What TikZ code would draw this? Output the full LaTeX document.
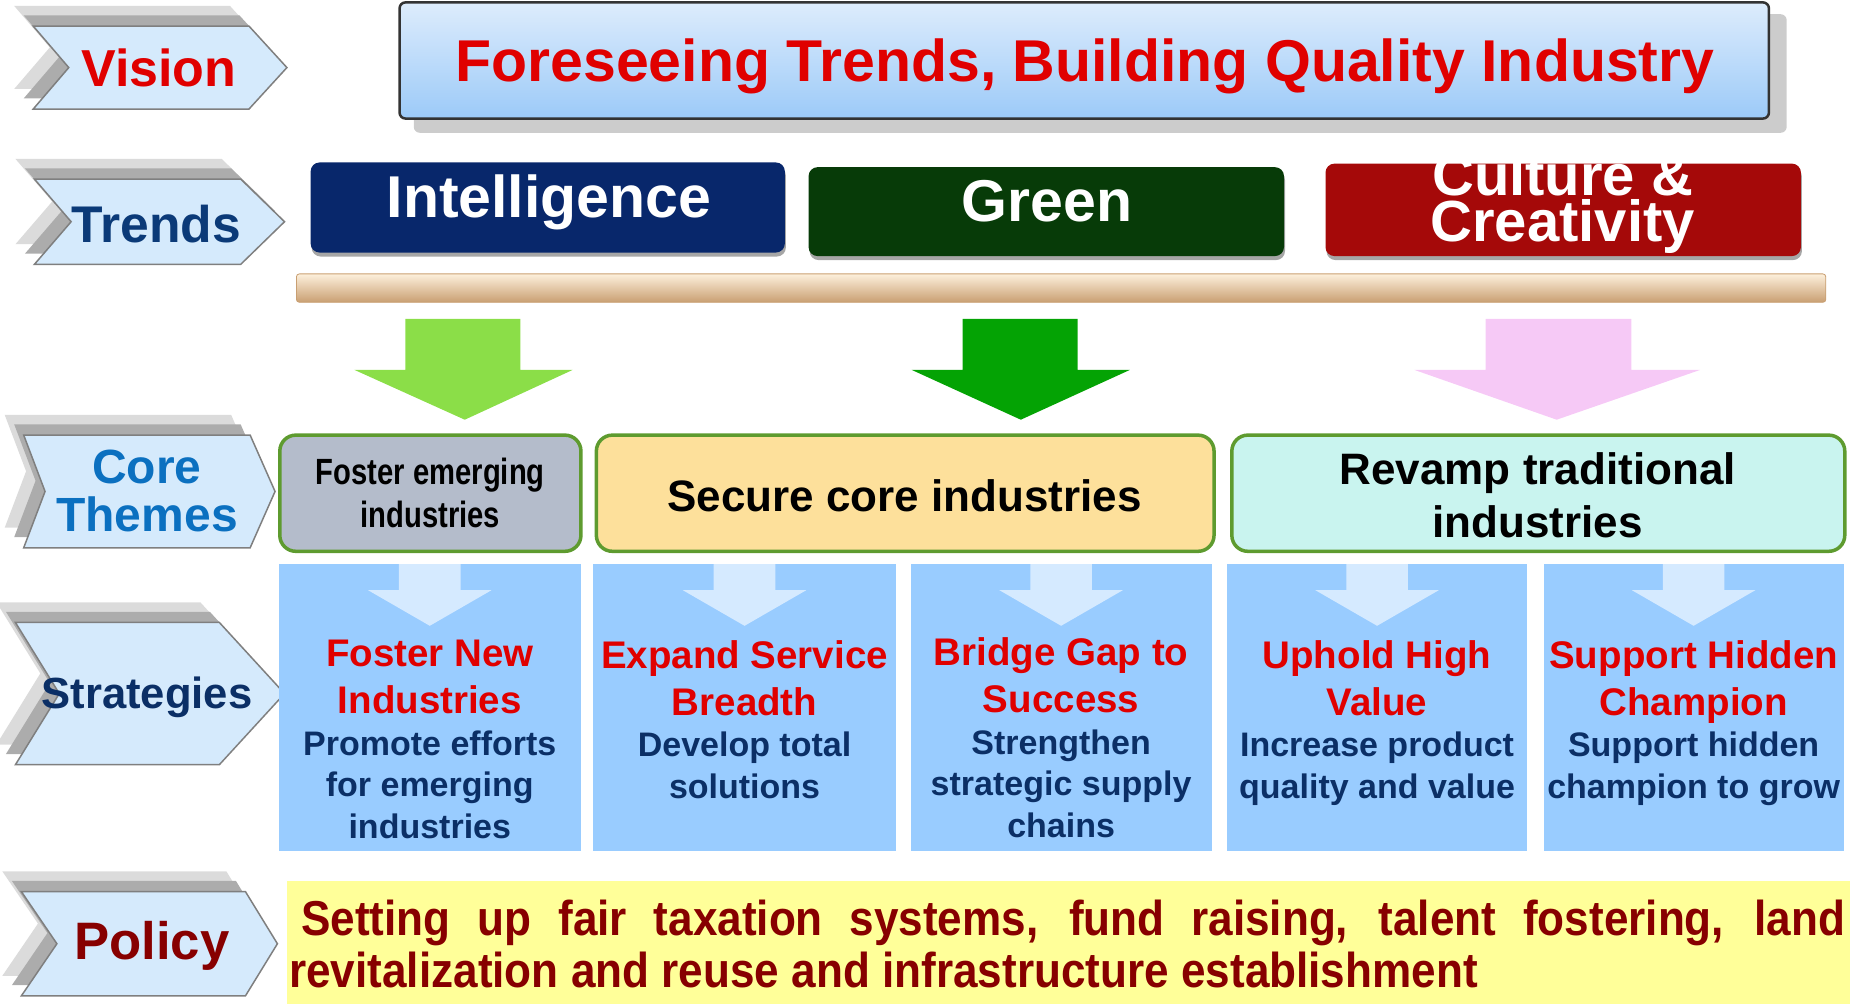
\documentclass[tikz,border=0pt]{standalone}
\usepackage{fontspec}
\setmainfont{Liberation Sans}
\newfontfamily\narrowsans[FakeStretch=0.8]{Liberation Sans}
\newfontfamily\condsans[FakeStretch=0.9]{Liberation Sans}
\usetikzlibrary{calc}
\usetikzlibrary{fit}
\usetikzlibrary{shadows}

\definecolor{visred}{HTML}{E00000}
\definecolor{trendnavy}{HTML}{0B3A78}
\definecolor{themeblue}{HTML}{0B70C0}
\definecolor{stratnavy}{HTML}{0B2F66}
\definecolor{polred}{HTML}{870000}
\definecolor{chevfill}{HTML}{D5EAFC}
\definecolor{chevline}{HTML}{7F7F7F}
\definecolor{vistop}{HTML}{DDECFC}
\definecolor{visbot}{HTML}{9CCAF8}
\definecolor{intelblue}{HTML}{08276B}
\definecolor{greendark}{HTML}{073B08}
\definecolor{culturered}{HTML}{A50909}
\definecolor{bartop}{HTML}{FDF0DC}
\definecolor{barmid}{HTML}{F5D5A8}
\definecolor{barbot}{HTML}{C99F72}
\definecolor{lightgreen}{HTML}{8BDE48}
\definecolor{deepgreen}{HTML}{04A304}
\definecolor{softpink}{HTML}{F6C9F6}
\definecolor{themeline}{HTML}{5E9B2F}
\definecolor{fostergray}{HTML}{B4BCCB}
\definecolor{securesand}{HTML}{FDE09B}
\definecolor{revampaqua}{HTML}{C9F4EF}
\definecolor{stratfill}{HTML}{99CCFF}
\definecolor{stratarrow}{HTML}{D5EAFF}
\definecolor{polfill}{HTML}{FFFF99}

\newcommand{\fsz}[2]{\fontsize{#1}{#2}\selectfont}
\newcommand{\tightlines}{\lineskiplimit=-200pt\lineskip=0pt}
\newcommand{\normalspaces}{\spaceskip=0pt\xspaceskip=0pt}
% left, top, tip, bottom, point depth, notch depth
\newcommand{\chevpath}[6]{(#1,#2) -- ({#3-#5},#2) -- (#3,{(#2+#4)/2}) -- ({#3-#5},#4) -- (#1,#4) -- ({#1+#6},{(#2+#4)/2}) -- cycle}
\newcommand{\strat}[2]{\centering\normalspaces{\color{visred}\fsz{38.5}{47}#1\par}{\color{stratnavy}\fsz{34}{41.5}#2\par}}

\begin{document}
\begin{tikzpicture}[x=1.1856pt,y=-1.1856pt,
	chevfront/.style={fill=chevfill,draw=chevline,line width=1.5pt},
	chevshadeA/.style={fill=gray!65},
	chevshadeB/.style={fill=gray!28},
	chevtext/.style={font=\bfseries\fsz{#1}{#1},align=center,inner sep=0pt},
	visbox/.style={inner sep=0pt,rounded corners=6pt,draw=black!80,line width=2.5pt,
		top color=vistop,bottom color=visbot},
	vistext/.style={inner sep=0pt,text=visred,font=\bfseries\fsz{59}{59}},
	trendbox/.style={inner sep=0pt,rounded corners=9pt,
		drop shadow={shadow xshift=1pt,shadow yshift=-4pt,opacity=.35,fill=black}},
	trendtext/.style={inner sep=0pt,text=white,align=center,font=\bfseries\fsz{59}{59}},
	bar/.style={inner sep=0pt,rounded corners=3pt,top color=bartop,middle color=barmid,
		bottom color=barbot,draw=barbot,line width=.8pt},
	themebox/.style={inner sep=0pt,rounded corners=16pt,draw=themeline,line width=3.5pt},
	themetext/.style={inner sep=0pt,align=center,font=\bfseries\fsz{44}{53}},
	stratbox/.style={inner sep=0pt,fill=stratfill},
	stratdown/.style={fill=stratarrow},
	strattext/.style={anchor=north,inner sep=0pt,text width=320pt,align=center,font=\bfseries},
	polbox/.style={inner sep=0pt,fill=polfill},
	poltext/.style={anchor=north west,inner sep=0pt,text width=1557pt,align=left,
		text=polred,font=\condsans\bfseries\fsz{49}{52}}
	]
	\useasboundingbox (0,0) rectangle (1568,847);

	% row labels
	\foreach \l/\t/\r/\b/\p/\n in {28/22/242/92/32/30, 29/151/240/223/37/31,
		20/367/232/462/21/18, 13/525/240/645/55/37, 18/752/234/840/27/30}
	{
		\fill[chevshadeB,shift={(-16,-17)}] \chevpath{\l}{\t}{\r}{\b}{\p}{\n};
		\fill[chevshadeA,shift={(-8,-9)}] \chevpath{\l}{\t}{\r}{\b}{\p}{\n};
		\draw[chevfront] \chevpath{\l}{\t}{\r}{\b}{\p}{\n};
	}
	\node[chevtext=52,text=visred] (vision) at (134,57) {Vision};
	\node[chevtext=51.6,text=trendnavy] (trends) at (132,189) {Trends};
	\node[chevtext=48,text=themeblue] (themes) at (124,414) {Core\\Themes};
	\node[chevtext=43.6,text=stratnavy] (strategies) at (124,588) {Strategies};
	\node[chevtext=52.7,text=polred] (policy) at (128,798) {Policy};

	% vision
	\fill[gray!40,rounded corners=6pt] (349,12) rectangle (1507,112);
	\node[visbox,fit={(337,2) (1492,100)}] (visbox) {};
	\node[vistext] (vistxt) at (915,56) {Foreseeing Trends, Building Quality Industry};

	% trends
	\node[trendbox,fill=intelblue,fit={(262,137) (662,213)}] (intel) {};
	\node[trendbox,fill=greendark,fit={(682,141) (1083,216)}] (green) {};
	\node[trendbox,fill=culturered,fit={(1118,138) (1519,216)}] (culture) {};
	\node[trendtext] (inteltxt) at (463,171) {Intelligence};
	\node[trendtext] (greentxt) at (883,170) {Green};
	\node[trendtext,font=\bfseries\fsz{58}{46}\tightlines] (culturetxt) at (1318,172) {Culture \&\\Creativity};
	\node[bar,fit={(250,231) (1540,255)}] (bar) {};

	\fill[lightgreen] (342,269) -- (439,269) -- (439,312) -- (483,312) -- (392,354) -- (299,312) -- (342,312) -- cycle;
	\fill[deepgreen] (812,269) -- (909,269) -- (909,312) -- (953,312) -- (861,354) -- (769,312) -- (812,312) -- cycle;
	\fill[softpink] (1253,269) -- (1376,269) -- (1376,312) -- (1434,312) -- (1313,354) -- (1193,312) -- (1253,312) -- cycle;

	% core themes
	\node[themebox,fill=fostergray,fit={(236,367) (490,465)}] (foster) {};
	\node[themebox,fill=securesand,fit={(503,367) (1024,465)}] (secure) {};
	\node[themebox,fill=revampaqua,fit={(1039,367) (1556,465)}] (revamp) {};
	\node[themetext,font=\narrowsans\bfseries\fsz{36.5}{43}] (fostertxt) at (363,416) {Foster emerging\\industries};
	\node[themetext] (securetxt) at (763,418) {Secure core industries};
	\node[themetext] (revamptxt) at (1297,418) {\normalspaces Revamp traditional\\industries};

	% strategies
	\node[stratbox,fit={(235,476) (490,718)}] (str1) {};
	\node[stratbox,fit={(500,476) (756,718)}] (str2) {};
	\node[stratbox,fit={(768,476) (1022,718)}] (str3) {};
	\node[stratbox,fit={(1035,476) (1288,718)}] (str4) {};
	\node[stratbox,fit={(1302,476) (1555,718)}] (str5) {};
	\foreach \b in {str1,str2,str3,str4,str5}
		\fill[stratdown] ($(\b.north)+(-26,0)$) -- ++(52,0) -- ++(0,22) -- ++(26,0)
			-- ($(\b.north)+(0,52)$) -- ++(-52,-30) -- ++(26,0) -- cycle;
	\node[strattext] (str1txt) at ($(str1.north)+(0,64)$) {\strat{Foster New\\Industries}{Promote efforts\\for emerging\\industries}};
	\node[strattext] (str2txt) at ($(str2.north)+(0,64)$) {\strat{Expand Service\\Breadth}{Develop total\\solutions}};
	\node[strattext] (str3txt) at ($(str3.north)+(0,62)$) {\strat{Bridge Gap to\\Success}{Strengthen\\strategic supply\\chains}};
	\node[strattext] (str4txt) at ($(str4.north)+(0,64)$) {\strat{Uphold High\\Value}{Increase product\\quality and value}};
	\node[strattext] (str5txt) at ($(str5.north)+(0,64)$) {\strat{Support Hidden\\Champion}{Support hidden\\champion to grow}};

	% policy
	\node[polbox,fit={(242,743) (1560,847)}] (polbox) {};
	\node[poltext] (poltxt) at ($(polbox.north west)+(2,16)$)
		{\normalspaces\hspace*{12pt}\makebox[1544pt][s]{Setting up fair taxation systems, fund raising, talent fostering, land}\\
		revitalization and reuse and infrastructure establishment};
\end{tikzpicture}
\end{document}
